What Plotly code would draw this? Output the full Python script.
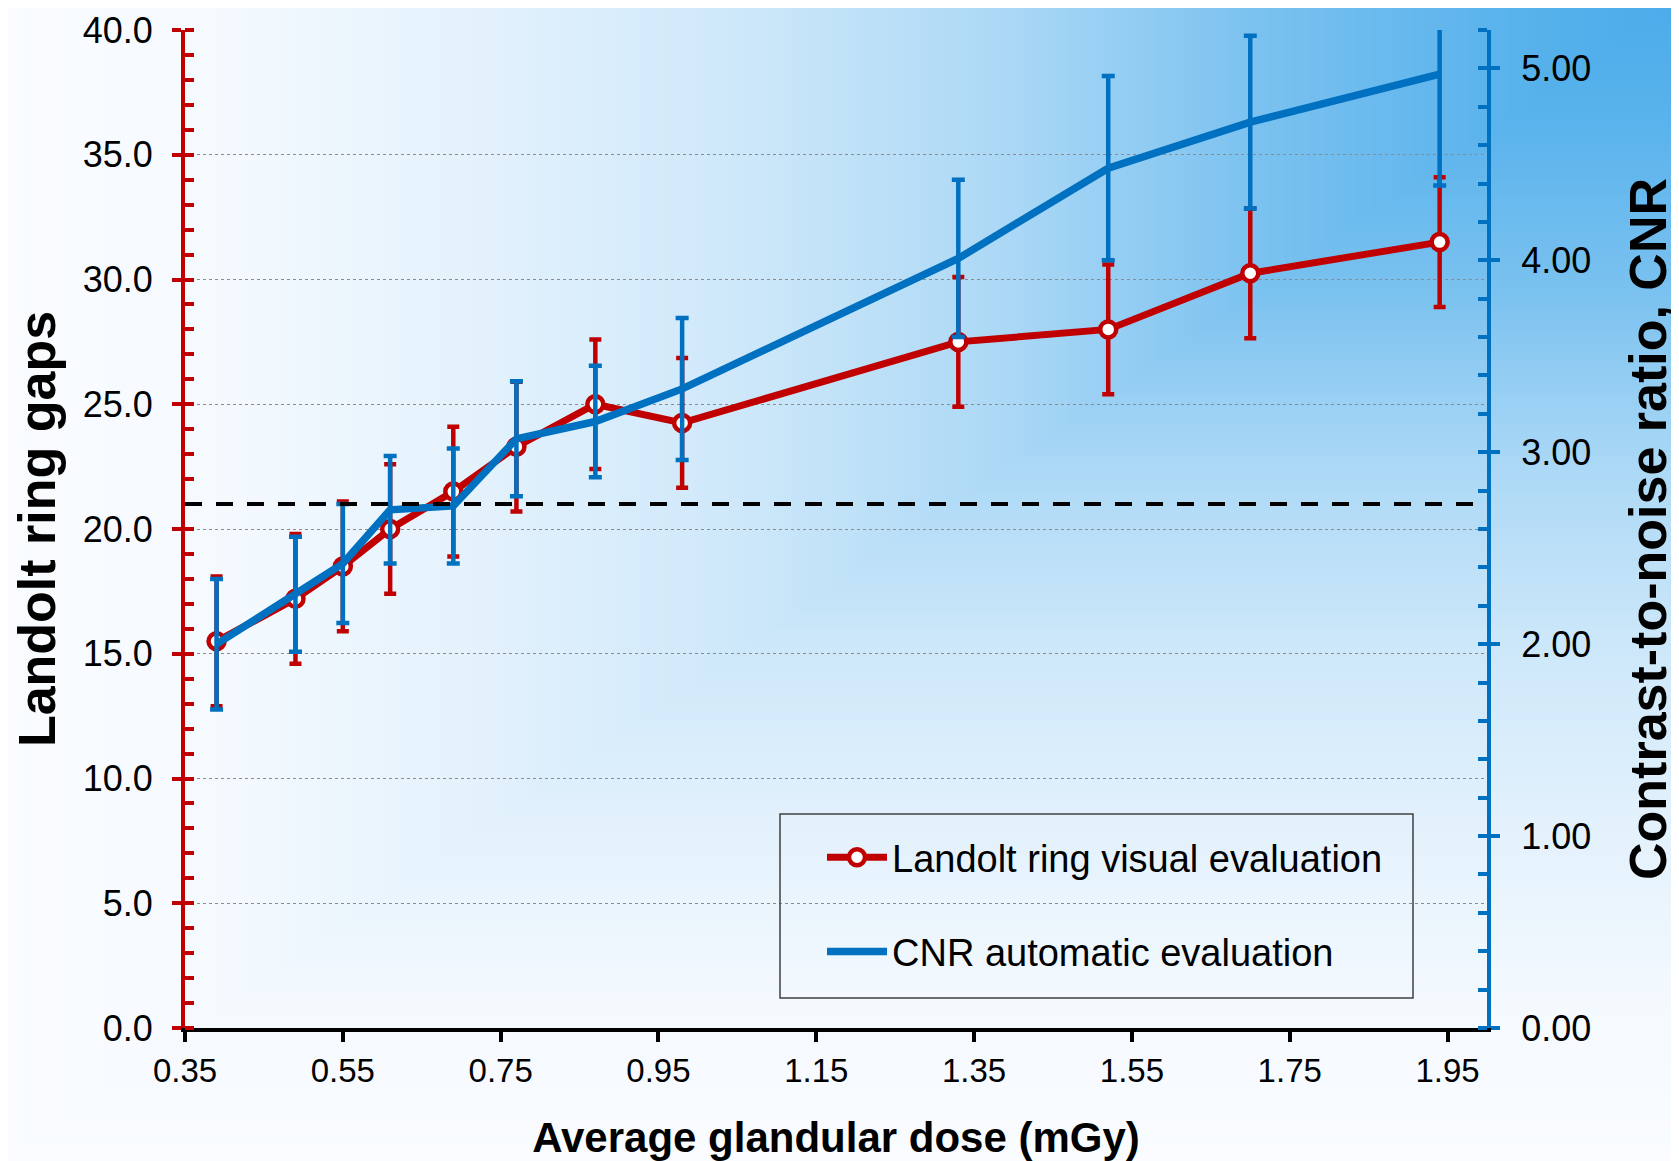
import base64
import struct
import zlib

import numpy as np
import plotly.graph_objects as go

# ---------------- data ----------------
dose_mgy = [0.39, 0.49, 0.55, 0.61, 0.69, 0.77, 0.87, 0.98, 1.33, 1.52, 1.70, 1.94]
landolt_gaps = [15.5, 17.2, 18.5, 20.0, 21.5, 23.3, 25.0, 24.25, 27.5, 28.0, 30.25, 31.5]
landolt_err = [2.6, 2.6, 2.6, 2.6, 2.6, 2.6, 2.6, 2.6, 2.6, 2.6, 2.6, 2.6]
cnr_values = [2.00, 2.26, 2.42, 2.70, 2.72, 3.07, 3.16, 3.33, 4.01, 4.48, 4.72, 4.97]
cnr_err = [0.34, 0.30, 0.31, 0.28, 0.30, 0.30, 0.29, 0.37, 0.41, 0.48, 0.45, 0.58]
threshold_gaps = 21.0

x_range = [0.35, 2.0]
x_ticks = [0.35, 0.55, 0.75, 0.95, 1.15, 1.35, 1.55, 1.75, 1.95]
left_range = [0, 40]
right_range = [0, 5.2]

series_names = ["Landolt ring visual evaluation", "CNR automatic evaluation"]
x_title = "Average glandular dose (mGy)"
left_title = "Landolt ring gaps"
right_title = "Contrast-to-noise ratio, CNR"

# ---------------- style ----------------
PAGE_W, PAGE_H = 1679, 1161
BODY = 8                      # default page margin around the plot div
W, H = PAGE_W - BODY, PAGE_H - BODY
PLOT_L, PLOT_R, PLOT_T, PLOT_B = 185, 1487, 30, 1028   # page coordinates
ML, MT = PLOT_L - BODY, PLOT_T - BODY
MR, MB = PAGE_W - PLOT_R, PAGE_H - PLOT_B
PW, PH = PLOT_R - PLOT_L, PLOT_B - PLOT_T

RED = "#C00000"
BLUE = "#0070C0"
FONT = "Liberation Sans, Arial, sans-serif"

# background gradient (style only), computed over the page
WI, HI = 420, 290
u = (np.arange(WI) + 0.5) / WI
v = (np.arange(HI) + 0.5) / HI
U, V = np.meshgrid(u, v)
D = np.maximum(1 - U, V)
t = np.interp(D, [0, 0.1, 0.25, 0.4, 0.55, 0.7, 0.87, 1.0],
              [1.0, 0.92, 0.73, 0.45, 0.26, 0.14, 0.03, 0.0])
c0 = np.array([250, 252, 255], dtype=float)
c1 = np.array([75, 172, 234], dtype=float)
img = np.clip(np.round(c0 + (c1 - c0) * t[..., None]), 0, 255).astype(np.uint8)
raw = b"".join(b"\x00" + img[r].tobytes() for r in range(HI))


def _chunk(tag, data):
    return (struct.pack(">I", len(data)) + tag + data
            + struct.pack(">I", zlib.crc32(tag + data) & 0xFFFFFFFF))


png = (b"\x89PNG\r\n\x1a\n"
       + _chunk(b"IHDR", struct.pack(">IIBBBBB", WI, HI, 8, 2, 0, 0, 0))
       + _chunk(b"IDAT", zlib.compress(raw, 9))
       + _chunk(b"IEND", b""))
bg_src = "data:image/png;base64," + base64.b64encode(png).decode()


def px(X):
    return (X - PLOT_L) / PW


def py(Y):
    return (PLOT_B - Y) / PH


fig = go.Figure()

fig.add_trace(go.Scatter(
    x=dose_mgy, y=landolt_gaps, name=series_names[0], legendgroup="a",
    mode="lines+markers",
    line=dict(color=RED, width=7),
    marker=dict(symbol="circle", size=16, color="white", line=dict(color=RED, width=4.5)),
    error_y=dict(type="data", array=landolt_err, visible=True, color=RED,
                 thickness=4.5, width=6),
    yaxis="y",
))

fig.add_trace(go.Scatter(
    x=dose_mgy, y=cnr_values, name=series_names[1], legendgroup="b",
    mode="lines",
    line=dict(color=BLUE, width=7.5),
    error_y=dict(type="data", array=cnr_err, visible=True, color=BLUE,
                 thickness=4.5, width=6.5),
    yaxis="y2",
))

# invisible traces so the overlay tick axes are drawn
fig.add_trace(go.Scatter(x=[None], y=[None], yaxis="y3", showlegend=False, hoverinfo="skip"))
fig.add_trace(go.Scatter(x=[None], y=[None], yaxis="y4", showlegend=False, hoverinfo="skip"))

fig.add_shape(type="line", xref="x domain", x0=0, x1=1, yref="y",
              y0=threshold_gaps, y1=threshold_gaps,
              line=dict(color="black", width=4, dash="17px,14px"), layer="above")

# legend frame
fig.add_shape(type="rect", xref="paper", yref="paper",
              x0=px(780), x1=px(1413), y0=py(998), y1=py(814),
              line=dict(color="#404040", width=1.5), fillcolor="rgba(0,0,0,0)")

fig.update_layout(
    width=W, height=H,
    margin=dict(l=ML, r=MR, t=MT, b=MB, autoexpand=False),
    paper_bgcolor="white",
    plot_bgcolor="rgba(0,0,0,0)",
    font=dict(family=FONT, color="black"),
    images=[dict(source=bg_src, xref="paper", yref="paper",
                 x=px(0), y=1 + (PLOT_T - 0) / PH, sizex=PAGE_W / PW, sizey=PAGE_H / PH,
                 xanchor="left", yanchor="top", sizing="stretch", layer="below")],
    xaxis=dict(
        range=x_range, tickvals=x_ticks, tickformat=".2f",
        showline=True, linecolor="black", linewidth=4,
        ticks="outside", ticklen=10, tickwidth=4, tickcolor="black",
        showgrid=False, zeroline=False,
        tickfont=dict(size=33, family=FONT, color="black"),
        ticklabeloverflow="allow",
        title=dict(text="<b>" + x_title + "</b>", font=dict(size=42, family=FONT, color="black"),
                   standoff=38),
        automargin=False,
    ),
    yaxis=dict(
        range=left_range, dtick=5, tick0=0, tickformat=".1f",
        showline=True, linecolor=RED, linewidth=4,
        ticks="outside", ticklen=9, tickwidth=4, tickcolor=RED,
        minor=dict(dtick=1, ticks="inside", ticklen=9, tickwidth=4, tickcolor=RED, showgrid=False),
        showgrid=True, gridcolor="#8c8c8c", gridwidth=1, griddash="dot",
        zeroline=False,
        tickfont=dict(size=36, family=FONT, color="black"),
        ticklabeloverflow="allow",
        ticklabelstandoff=12,
        title=dict(text="<b>" + left_title + "</b>", font=dict(size=52, family=FONT, color="black"),
                   standoff=12),
        automargin=False,
    ),
    yaxis2=dict(
        range=right_range, dtick=1, tick0=0, tickformat=".2f",
        overlaying="y", side="right", anchor="x",
        showline=True, linecolor=BLUE, linewidth=4,
        ticks="outside", ticklen=9, tickwidth=4, tickcolor=BLUE,
        minor=dict(dtick=0.2, ticks="inside", ticklen=9, tickwidth=4, tickcolor=BLUE, showgrid=False),
        showgrid=False, zeroline=False,
        tickfont=dict(size=36, family=FONT, color="black"),
        ticklabeloverflow="allow",
        ticklabelstandoff=14,
        title=dict(text="<b>" + right_title + "</b>", font=dict(size=52, family=FONT, color="black"),
                   standoff=40),
        automargin=False,
    ),
    yaxis3=dict(
        range=left_range, dtick=5, tick0=0, overlaying="y", side="left", anchor="x",
        ticks="inside", ticklen=9, tickwidth=4, tickcolor=RED,
        showticklabels=False, showgrid=False, showline=False, zeroline=False,
    ),
    yaxis4=dict(
        range=right_range, dtick=1, tick0=0, overlaying="y", side="right", anchor="x",
        ticks="inside", ticklen=9, tickwidth=4, tickcolor=BLUE,
        showticklabels=False, showgrid=False, showline=False, zeroline=False,
    ),
    legend=dict(
        x=px(822), xanchor="left",
        y=py(826), yanchor="top",
        bgcolor="rgba(0,0,0,0)", borderwidth=0,
        font=dict(size=38, family=FONT, color="black"),
        traceorder="grouped", tracegroupgap=42, itemwidth=60,
    ),
    showlegend=True,
)

fig.write_html("out.html")
